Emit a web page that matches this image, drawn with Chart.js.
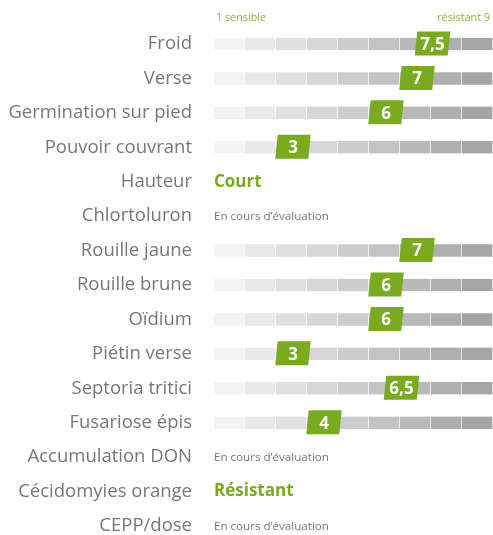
<!DOCTYPE html>
<html>
<head>
<meta charset="utf-8">
<script src="https://cdn.jsdelivr.net/npm/chart.js@4.4.1/dist/chart.umd.min.js"></script>
<style>
  html, body { margin: 0; padding: 0; background: #fff; overflow: hidden; }
  #wrap { width: 493px; height: 535px; }
</style>
</head>
<body>
<div id="wrap"><canvas id="noteChart" width="493" height="535"></canvas></div>
<script>
const criteres = [
  'Froid', 'Verse', 'Germination sur pied', 'Pouvoir couvrant', 'Hauteur',
  'Chlortoluron', 'Rouille jaune', 'Rouille brune', 'Oïdium', 'Piétin verse',
  'Septoria tritici', 'Fusariose épis', 'Accumulation DON', 'Cécidomyies orange', 'CEPP/dose'
]
const notes = [7.5, 7, 6, 3, null, null, 7, 6, 6, 3, 6.5, 4, null, null, null]
const mentions = [
  null, null, null, null, 'Court', 'En cours d’évaluation', null, null, null, null,
  null, null, 'En cours d’évaluation', 'Résistant', 'En cours d’évaluation'
]
const echelle = [1, 2, 3, 4, 5, 6, 7, 8, 9]
const bornes = ['1 sensible', 'résistant 9']

const GREEN = '#79aa1f'
const GREY_TEXT = '#777777'
const segmentColors = [
  '#f3f3f3', '#e9e9e9', '#e0e0e0', '#d7d7d7', '#cdcdcd',
  '#c3c3c3', '#b9b9b9', '#afafaf', '#a5a5a5'
]

// one dataset per scale step, drawn as a floating bar
const datasets = echelle.map((k, i) => ({
  data: notes.map((n) => (n === null ? null : [k - 0.5, k + 0.5])),
  backgroundColor: segmentColors[i],
  borderColor: 'rgba(255, 255, 255, 0.3)',
  borderWidth: { top: 0, bottom: 0, left: 0, right: 1 },
  borderSkipped: false,
  barThickness: 12.5,
  grouped: false,
  clip: false
}))

const markerPlugin = {
  id: 'markers',
  afterDatasetsDraw(chart) {
    const { ctx, scales } = chart
    const x = scales.x
    const y = scales.y
    ctx.save()

    // échelle en tête
    ctx.font = '10.8px "Open Sans"'
    ctx.fillStyle = '#8ab43c'
    ctx.textBaseline = 'middle'
    ctx.textAlign = 'left'
    ctx.fillText(bornes[0], 216, 18)
    ctx.textAlign = 'right'
    ctx.fillText(bornes[1], 490, 18)

    criteres.forEach((c, i) => {
      const cy = y.getPixelForValue(i)
      const n = notes[i]
      if (n !== null) {
        const cx = x.getPixelForValue(n) + 1.5
        const w = 33
        const skew = 2.5
        ctx.beginPath()
        ctx.moveTo(cx - w / 2 + skew / 2, cy - 12.5)
        ctx.lineTo(cx + w / 2 + skew / 2, cy - 12.5)
        ctx.lineTo(cx + w / 2 - skew / 2, cy + 11.5)
        ctx.lineTo(cx - w / 2 - skew / 2, cy + 11.5)
        ctx.closePath()
        ctx.fillStyle = GREEN
        ctx.fill()
        ctx.fillStyle = '#ffffff'
        ctx.font = 'bold 17px "Open Sans"'
        ctx.textAlign = 'center'
        ctx.textBaseline = 'middle'
        ctx.fillText(String(n).replace('.', ','), cx, cy + 1)
      }
      const m = mentions[i]
      if (m) {
        ctx.textAlign = 'left'
        ctx.textBaseline = 'middle'
        if (m.startsWith('En cours')) {
          ctx.font = '11.6px "Open Sans"'
          ctx.fillStyle = GREY_TEXT
          ctx.fillText(m, 214, cy + 1)
        } else {
          ctx.font = 'bold 17px "Open Sans"'
          ctx.fillStyle = GREEN
          ctx.fillText(m, 214, cy)
        }
      }
    })
    ctx.restore()
  }
}

new Chart(document.getElementById('noteChart'), {
  type: 'bar',
  data: { labels: criteres, datasets: datasets },
  options: {
    indexAxis: 'y',
    responsive: false,
    animation: false,
    layout: { padding: { top: 44, bottom: 9, left: 0, right: 0 } },
    plugins: {
      legend: { display: false },
      tooltip: { enabled: false },
      title: { display: false }
    },
    scales: {
      x: { type: 'linear', min: 0.5, max: 9.5, display: false },
      y: {
        offset: false,
        grid: { display: false, drawTicks: false },
        border: { display: false },
        ticks: {
          autoSkip: false,
          padding: 22,
          color: GREY_TEXT,
          font: { family: '"Open Sans"', size: 18.5 }
        },
        afterFit: function (scale) {
          scale.width = 214
          // tick padding would otherwise eat space above and below
          scale.paddingTop = 0
          scale.paddingBottom = 0
        }
      }
    }
  },
  plugins: [markerPlugin]
})
</script>
</body>
</html>
